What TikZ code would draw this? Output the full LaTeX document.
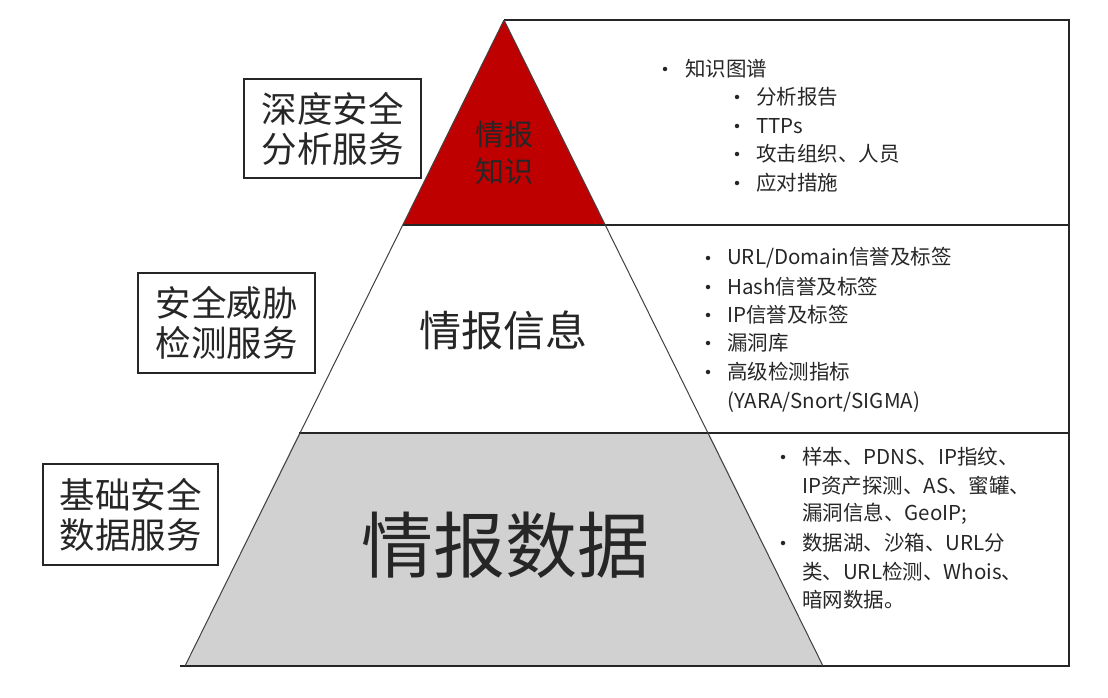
\documentclass[tikz,border=0pt]{standalone}
\usepackage{fontspec}
\setmainfont{Noto Sans CJK SC}
\begin{document}
\begin{tikzpicture}[x=1pt,y=-1pt,
  lbox/.style={draw=black!85,line width=1.6pt,fill=white},
  ltxt/.style={font=\fontsize{35.5}{40}\selectfont,text=black!85,align=center,inner sep=0pt},
  item/.style={anchor=west,inner sep=0pt,font=\fontsize{20.5}{24}\selectfont,text=black!85},
  bul/.style={circle,fill=black!85,inner sep=0pt,minimum size=4.5pt}]
\useasboundingbox (0,0) rectangle (1108,698);
% coordinates
\coordinate (A) at (504,20);
\coordinate (L1) at (403,225); \coordinate (R1) at (605,225);
\coordinate (L2) at (299,433); \coordinate (R2) at (709,433);
\coordinate (L3) at (185,666); \coordinate (R3) at (823,666);
\coordinate (E) at (1069,20);
% fills
\fill[red!75!black] (A) -- (R1) -- (L1) -- cycle;
\fill[black!18] (L2) -- (R2) -- (R3) -- (L3) -- cycle;
% right boxes outline
\draw[black!85,line width=1.6pt] (A) -- (E) -- (1069,666) -- (180,666);
\draw[black!85,line width=1.4pt] (L1) -- (1069,225);
\draw[black!85,line width=1.4pt] (L2) -- (1069,433);
\draw[black!75,line width=1pt] (A) -- (R3);
\draw[black!75,line width=1pt] (A) -- (L3);
% pyramid labels
\node[inner sep=0pt,align=center,text=black!85,font=\fontsize{29}{37}\selectfont] (k) at (504,153) {情报\\知识};
\node[inner sep=0pt,text=black!85,font=\fontsize{42}{48}\selectfont] (i) at (503,330) {情报信息};
\node[inner sep=0pt,text=black!85,font=\fontsize{72}{80}\selectfont] (d) at (505,545) {情报数据};
% left boxes
\draw[lbox] (244,79) rectangle (421,178);
\node[ltxt] (b1) at (332.5,129) {深度安全\\分析服务};
\draw[lbox] (138,273) rectangle (315,373);
\node[ltxt] (b2) at (226.5,323) {安全威胁\\检测服务};
\draw[lbox] (43,464) rectangle (218,565);
\node[ltxt] (b3) at (130.5,514.5) {基础安全\\数据服务};
% top list
\node[bul] (t0) at (665,69) {}; \node[item] (tt0) at (685,69) {知识图谱};
\foreach \y/\t [count=\n] in {97/分析报告,126/TTPs,154/攻击组织、人员,183/应对措施}{
  \node[bul] (tb\n) at (737,\y) {}; \node[item] (ti\n) at (756,\y) {\t};}
% middle list
\foreach \y/\t [count=\n] in {258/{URL/Domain信誉及标签},287/Hash信誉及标签,315/IP信誉及标签,343/漏洞库,372/高级检测指标}{
  \node[bul] (mb\n) at (708,\y) {}; \node[item] (mi\n) at (727,\y) {\t};}
\node[item] (mi6) at (727,402) {(YARA/Snort/SIGMA)};
% bottom list
\node[bul] (bb1) at (783,457) {};
\node[item] (bi1) at (802,457) {样本、PDNS、IP指纹、};
\node[item] (bi2) at (802,486) {IP资产探测、AS、蜜罐、};
\node[item] (bi3) at (802,514) {漏洞信息、GeoIP;};
\node[bul] (bb2) at (783,543) {};
\node[item] (bi4) at (802,543) {数据湖、沙箱、URL分};
\node[item] (bi5) at (802,572) {类、URL检测、Whois、};
\node[item] (bi6) at (802,600) {暗网数据。};
\end{tikzpicture}
\end{document}
